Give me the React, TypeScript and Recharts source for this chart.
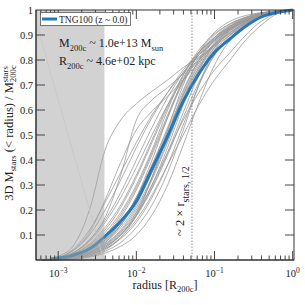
import React from 'react';
import { LineChart, Line, XAxis, YAxis, ReferenceArea, ReferenceLine } from 'recharts';

// shared radius grid [R200c] for the individual halo profiles
const radiusGrid = [6.31e-4, 1e-3, 1.585e-3, 2.512e-3, 3.981e-3, 6.31e-3, 0.01, 0.01585, 0.02512, 0.03981, 0.0631, 0.1, 0.1585, 0.2512, 0.3981, 0.631, 1.0];

// enclosed stellar mass fraction of individual halos (gray curves)
const halo01 = [0, 0.015, 0.06, 0.2, 0.44, 0.56, 0.625, 0.675, 0.72, 0.77, 0.81, 0.855, 0.9, 0.94, 0.97, 0.99, 1];
const halo02 = [0, 0.005, 0.03, 0.08, 0.17, 0.34, 0.56, 0.64, 0.69, 0.745, 0.8, 0.865, 0.91, 0.95, 0.975, 0.99, 1];
const halo03 = [0, 0.008, 0.04, 0.11, 0.24, 0.39, 0.52, 0.595, 0.655, 0.72, 0.79, 0.86, 0.905, 0.945, 0.975, 0.99, 1];
const halo04 = [0, 0.01, 0.04, 0.1, 0.2, 0.32, 0.45, 0.57, 0.67, 0.76, 0.83, 0.885, 0.925, 0.955, 0.98, 0.993, 1];
const halo05 = [0, 0.008, 0.03, 0.08, 0.16, 0.27, 0.4, 0.53, 0.65, 0.75, 0.83, 0.89, 0.93, 0.96, 0.982, 0.994, 1];
const halo06 = [0, 0.006, 0.025, 0.065, 0.13, 0.22, 0.34, 0.48, 0.62, 0.74, 0.83, 0.89, 0.935, 0.965, 0.985, 0.995, 1];
const halo07 = [0, 0.005, 0.02, 0.05, 0.1, 0.18, 0.29, 0.43, 0.58, 0.72, 0.82, 0.89, 0.935, 0.965, 0.985, 0.995, 1];
const halo08 = [0, 0.004, 0.015, 0.04, 0.08, 0.15, 0.25, 0.38, 0.53, 0.68, 0.8, 0.88, 0.93, 0.962, 0.984, 0.995, 1];
const halo09 = [0, 0.003, 0.012, 0.03, 0.065, 0.12, 0.21, 0.33, 0.48, 0.64, 0.77, 0.865, 0.925, 0.96, 0.983, 0.995, 1];
const halo10 = [0, 0.003, 0.01, 0.025, 0.055, 0.1, 0.18, 0.29, 0.43, 0.59, 0.74, 0.85, 0.915, 0.955, 0.98, 0.994, 1];
const halo11 = [0, 0.002, 0.008, 0.02, 0.045, 0.085, 0.15, 0.25, 0.38, 0.54, 0.7, 0.82, 0.9, 0.95, 0.978, 0.993, 1];
const halo12 = [0, 0.002, 0.006, 0.015, 0.035, 0.07, 0.13, 0.22, 0.35, 0.52, 0.7, 0.84, 0.92, 0.96, 0.982, 0.994, 1];
const halo13 = [0, 0.001, 0.005, 0.012, 0.028, 0.055, 0.1, 0.18, 0.3, 0.46, 0.63, 0.78, 0.88, 0.94, 0.975, 0.992, 1];
const halo14 = [0, 0.003, 0.012, 0.03, 0.06, 0.11, 0.19, 0.3, 0.43, 0.56, 0.67, 0.76, 0.83, 0.9, 0.955, 0.988, 1];
const halo15 = [0, 0.002, 0.008, 0.02, 0.045, 0.09, 0.16, 0.26, 0.38, 0.5, 0.62, 0.72, 0.8, 0.88, 0.94, 0.985, 1];
const halo16 = [0, 0.002, 0.007, 0.02, 0.05, 0.1, 0.19, 0.33, 0.5, 0.67, 0.8, 0.89, 0.94, 0.97, 0.988, 0.996, 1];
const halo17 = [0, 0.001, 0.005, 0.015, 0.04, 0.09, 0.18, 0.33, 0.52, 0.7, 0.83, 0.91, 0.955, 0.978, 0.99, 0.997, 1];
const halo18 = [0, 0.002, 0.01, 0.03, 0.07, 0.14, 0.25, 0.4, 0.57, 0.72, 0.83, 0.9, 0.945, 0.972, 0.988, 0.996, 1];
const halo19 = [0, 0.004, 0.018, 0.045, 0.095, 0.17, 0.28, 0.42, 0.57, 0.71, 0.81, 0.88, 0.925, 0.958, 0.98, 0.993, 1];
const halo20 = [0, 0.006, 0.025, 0.06, 0.12, 0.21, 0.33, 0.47, 0.61, 0.73, 0.82, 0.88, 0.92, 0.952, 0.977, 0.992, 1];
const halo21 = [0, 0.005, 0.02, 0.055, 0.11, 0.19, 0.3, 0.44, 0.6, 0.74, 0.84, 0.905, 0.945, 0.97, 0.986, 0.995, 1];
const halo22 = [0, 0.003, 0.013, 0.035, 0.075, 0.14, 0.24, 0.37, 0.51, 0.65, 0.77, 0.86, 0.92, 0.958, 0.982, 0.994, 1];
const halo23 = [0, 0.004, 0.016, 0.04, 0.085, 0.15, 0.25, 0.38, 0.52, 0.66, 0.78, 0.87, 0.93, 0.965, 0.985, 0.995, 1];
const halo24 = [0, 0.002, 0.009, 0.025, 0.055, 0.105, 0.18, 0.3, 0.45, 0.62, 0.76, 0.86, 0.925, 0.962, 0.984, 0.995, 1];
const halo25 = [0, 0.007, 0.03, 0.075, 0.15, 0.25, 0.37, 0.5, 0.62, 0.72, 0.8, 0.86, 0.91, 0.948, 0.975, 0.992, 1];
const halo26 = [0, 0.01, 0.045, 0.12, 0.23, 0.35, 0.47, 0.58, 0.67, 0.75, 0.82, 0.875, 0.92, 0.955, 0.98, 0.993, 1];
const halo27 = [0, 0.003, 0.011, 0.03, 0.062, 0.115, 0.2, 0.32, 0.47, 0.63, 0.76, 0.85, 0.91, 0.95, 0.978, 0.993, 1];
const halo28 = [0, 0.004, 0.015, 0.038, 0.08, 0.14, 0.23, 0.35, 0.49, 0.63, 0.75, 0.84, 0.9, 0.945, 0.976, 0.992, 1];
const halo29 = [0, 0.003, 0.012, 0.032, 0.07, 0.13, 0.22, 0.35, 0.5, 0.66, 0.79, 0.88, 0.935, 0.968, 0.986, 0.995, 1];
const halo30 = [0, 0.002, 0.008, 0.022, 0.05, 0.1, 0.175, 0.285, 0.42, 0.57, 0.71, 0.82, 0.89, 0.94, 0.972, 0.99, 1];

const halos = [halo01, halo02, halo03, halo04, halo05, halo06, halo07, halo08, halo09, halo10,
  halo11, halo12, halo13, halo14, halo15, halo16, halo17, halo18, halo19, halo20,
  halo21, halo22, halo23, halo24, halo25, halo26, halo27, halo28, halo29, halo30];

// median profile (blue)
const medianRadius = [7.94e-4, 1.585e-3, 2.512e-3, 3.981e-3, 6.31e-3, 0.01, 0.01585, 0.02512, 0.03981, 0.0631, 0.1, 0.1585, 0.2512, 0.3981, 0.631, 1.0];
const medianValue = [0.004, 0.02, 0.045, 0.095, 0.155, 0.235, 0.365, 0.495, 0.635, 0.745, 0.83, 0.885, 0.935, 0.972, 0.99, 1.0];

// faint line inside the resolution-limited region
const faintRadius = [5.46e-4, 3.83e-3];
const faintValue = [0.93, 0.0];

const xDomain = [5.2e-4, 1.04];
const yDomain = [0, 1];
const shadeRange = [5.2e-4, 3.9e-3];
const halfMassMarker = 0.0515;

const xMajorTicks = [1e-3, 1e-2, 1e-1, 1];
const xMinorTicks = [6e-4, 7e-4, 8e-4, 9e-4,
  2e-3, 3e-3, 4e-3, 5e-3, 6e-3, 7e-3, 8e-3, 9e-3,
  2e-2, 3e-2, 4e-2, 5e-2, 6e-2, 7e-2, 8e-2, 9e-2,
  0.2, 0.3, 0.4, 0.5, 0.6, 0.7, 0.8, 0.9];
const yTicks = [0.1, 0.2, 0.3, 0.4, 0.5, 0.6, 0.7, 0.8, 0.9];
const yLabels = ['0.1', '0.2', '0.3', '0.4', '0.5', '0.6', '0.7', '0.8', '0.9', '1'];

const legendLabel = 'TNG100 (z ~ 0.0)';

// all halo curves in one series, separated by gaps
const grayData: { r: number; v: number | null }[] = [];
halos.forEach((h) => {
  radiusGrid.forEach((r, i) => grayData.push({ r, v: h[i] }));
  grayData.push({ r: radiusGrid[radiusGrid.length - 1], v: null });
});
const medianData = medianRadius.map((r, i) => ({ r, v: medianValue[i] }));
const faintData = faintRadius.map((r, i) => ({ r, v: faintValue[i] }));

// layout
const W = 305;
const H = 305;
const M = { top: 10, right: 11, bottom: 0, left: 0 };
const Y_W = 36;
const X_H = 45;
const PLOT_TOP = 10;
const PLOT_LEFT = 36;
const PLOT_RIGHT = 294;
const PLOT_BOTTOM = 260;

const SERIF = "'Liberation Serif', 'DejaVu Serif', serif";
const AX = '#333333';
const BLUE = '#2478b8';

// pixel mapping of the frame decorations (matches the chart's log / linear axes)
const LX0 = Math.log10(xDomain[0]);
const LX1 = Math.log10(xDomain[1]);
function px(v: number): number {
  return PLOT_LEFT + ((Math.log10(v) - LX0) / (LX1 - LX0)) * (PLOT_RIGHT - PLOT_LEFT);
}
function py(v: number): number {
  return PLOT_BOTTOM - (v - yDomain[0]) / (yDomain[1] - yDomain[0]) * (PLOT_BOTTOM - PLOT_TOP);
}

const XTick = (props: any) => {
  const { x, y, payload } = props;
  const e = Math.round(Math.log10(payload.value));
  return (
    <text x={x} y={y + 17} textAnchor="middle" fontFamily={SERIF} fontSize={10.5} fill="#222">
      10<tspan dy={-4.5} fontSize={7.5}>{e === 0 ? '0' : '\u2212' + Math.abs(e)}</tspan>
    </text>
  );
};

const xTickMarks = xMajorTicks.map((t) => ({ x: px(t), len: 9 }))
  .concat(xMinorTicks.map((t) => ({ x: px(t), len: 4.5 })));
const yTickMarks = yTicks.map((t) => py(t));
const yLabelPos = yLabels.map((s) => ({ s, y: py(parseFloat(s)) }));

function Overlay() {
  const marks: React.ReactNode[] = [];
  xTickMarks.forEach((m, i) => {
    marks.push(<line key={'xb' + i} x1={m.x} x2={m.x} y1={PLOT_BOTTOM} y2={PLOT_BOTTOM - m.len} stroke={AX} strokeWidth={0.9} />);
    marks.push(<line key={'xt' + i} x1={m.x} x2={m.x} y1={PLOT_TOP} y2={PLOT_TOP + m.len} stroke={AX} strokeWidth={0.9} />);
  });
  yTickMarks.forEach((y, i) => {
    marks.push(<line key={'yl' + i} x1={PLOT_LEFT} x2={PLOT_LEFT + 9} y1={y} y2={y} stroke={AX} strokeWidth={0.9} />);
    marks.push(<line key={'yr' + i} x1={PLOT_RIGHT} x2={PLOT_RIGHT - 9} y1={y} y2={y} stroke={AX} strokeWidth={0.9} />);
  });
  yLabelPos.forEach((p, i) => {
    marks.push(
      <text key={'ylab' + i} x={PLOT_LEFT - 3} y={p.y + 3.7} textAnchor="end" fontFamily={SERIF} fontSize={10.5} fill="#222">
        {p.s}
      </text>
    );
  });
  return (
    <svg width={W} height={H} style={{ position: 'absolute', left: 0, top: 0, pointerEvents: 'none', zIndex: 2 }}>
      <rect x={PLOT_LEFT} y={PLOT_TOP} width={PLOT_RIGHT - PLOT_LEFT} height={PLOT_BOTTOM - PLOT_TOP} fill="none" stroke={AX} strokeWidth={1} />
      {marks}
      <rect x={40.5} y={12.5} width={90} height={13} fill="#fff" stroke="#555" strokeWidth={0.8} />
      <line x1={42} x2={57} y1={19} y2={19} stroke={BLUE} strokeWidth={3} />
      <text x={59} y={22.5} fontFamily={SERIF} fontSize={9.5} fill="#222">{legendLabel}</text>
      <text x={59} y={47} fontFamily={SERIF} fontSize={12} fill="#222">
        M<tspan dy={3.5} fontSize={8.5}>200c</tspan><tspan dy={-3.5}> ~ 1.0e+13 M</tspan><tspan dy={3.5} fontSize={8.5}>sun</tspan>
      </text>
      <text x={59} y={65} fontFamily={SERIF} fontSize={12} fill="#222">
        R<tspan dy={3.5} fontSize={8.5}>200c</tspan><tspan dy={-3.5}> ~ 4.6e+02 kpc</tspan>
      </text>
      <text transform="translate(184,236) rotate(-90)" fontFamily={SERIF} fontSize={12.5} fill="#222">
        ~ 2 × r<tspan dy={5} fontSize={10}>stars, 1/2</tspan>
      </text>
      <text transform="translate(13,133) rotate(-90)" textAnchor="middle" fontFamily={SERIF} fontSize={12.5} fill="#222">
        3D M<tspan dy={3} fontSize={8.75}>stars</tspan><tspan dy={-3}> (&lt; radius) / M</tspan><tspan dy={-5} fontSize={8.75}>stars</tspan><tspan dx={-16} dy={8} fontSize={8.75}>200c</tspan>
      </text>
      <text x={165} y={289} textAnchor="middle" fontFamily={SERIF} fontSize={12} fill="#222">
        radius [R<tspan dy={3} fontSize={8.5}>200c</tspan><tspan dy={-3}>]</tspan>
      </text>
    </svg>
  );
}

export default function App() {
  return (
    <div style={{ position: 'absolute', left: 0, top: 0, width: W, height: H }}>
      <LineChart width={W} height={H} margin={M}>
        <XAxis xAxisId="x" type="number" dataKey="r" scale="log" domain={xDomain} allowDataOverflow height={X_H}
          ticks={xMajorTicks} interval={0} tick={<XTick />} tickSize={0} tickMargin={0} tickLine={false}
          axisLine={{ stroke: AX, strokeWidth: 1 }} />
        <YAxis yAxisId="y" type="number" domain={yDomain} width={Y_W} tick={false} tickLine={false}
          axisLine={{ stroke: AX, strokeWidth: 1 }} />

        <Line xAxisId="x" yAxisId="y" data={grayData} dataKey="v" type="monotone" stroke="#9a9a9a" strokeWidth={0.8}
          connectNulls={false} dot={false} activeDot={false} isAnimationActive={false} legendType="none" />
        <Line xAxisId="x" yAxisId="y" data={faintData} dataKey="v" type="linear" stroke="#e6e6e6" strokeWidth={0.8}
          dot={false} activeDot={false} isAnimationActive={false} legendType="none" />
        <Line xAxisId="x" yAxisId="y" data={medianData} dataKey="v" type="monotone" stroke={BLUE} strokeWidth={3}
          dot={false} activeDot={false} isAnimationActive={false} name={legendLabel} />

        <ReferenceArea xAxisId="x" yAxisId="y" x1={shadeRange[0]} x2={shadeRange[1]} y1={yDomain[0]} y2={yDomain[1]}
          fill="#a6a6a6" fillOpacity={0.5} stroke="none" zIndex={450} />
        <ReferenceLine xAxisId="x" yAxisId="y" x={halfMassMarker} stroke="#777" strokeWidth={0.8} strokeDasharray="1.5 1.5" />
      </LineChart>
      <Overlay />
    </div>
  );
}
